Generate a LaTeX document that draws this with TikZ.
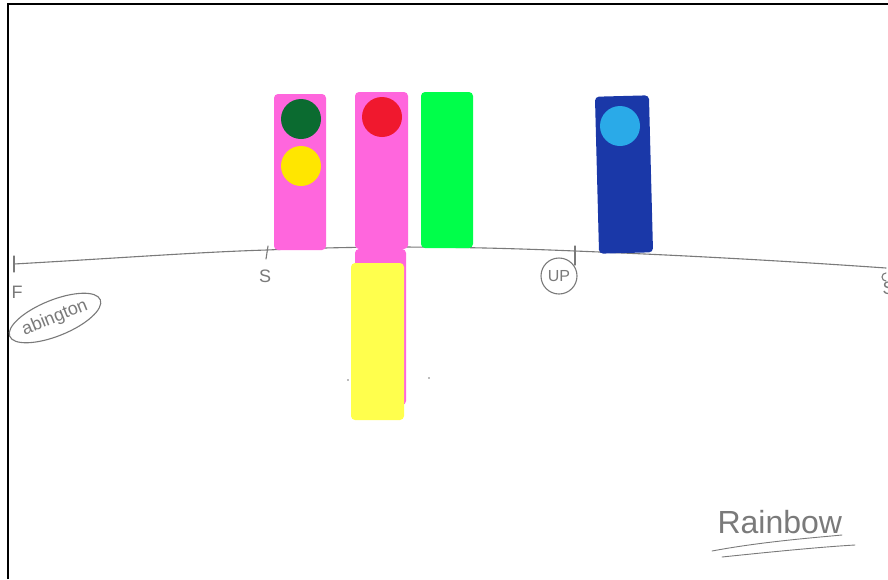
\documentclass[tikz,border=0pt]{standalone}
\usepackage{fontspec}
\setmainfont{Liberation Sans}
\usetikzlibrary{shapes.geometric}
\definecolor{pinkcard}{HTML}{FF66DD}
\definecolor{greencard}{HTML}{00FF4A}
\definecolor{yellowcard}{HTML}{FFFF4D}
\definecolor{bluecard}{HTML}{1A38A8}
\definecolor{dotgreen}{HTML}{0B6B30}
\definecolor{dotyellow}{HTML}{FFE600}
\definecolor{dotred}{HTML}{F0182E}
\definecolor{dotblue}{HTML}{2AAAE8}
\definecolor{pen}{HTML}{7A7A7A}
\tikzset{
  card/.style={rounded corners=4pt, draw=none},
  disc/.style={circle, minimum size=40pt, inner sep=0pt, draw=none},
  penline/.style={draw=pen, line width=1.1pt, line cap=round},
  hand/.style={text=pen, font=\fontsize{18}{20}\selectfont},
  frameline/.style={draw=black, line width=2pt},
}
\begin{document}
\begin{tikzpicture}[x=1pt,y=-1pt]
\useasboundingbox (0,0) rectangle (888,579);
\fill[white] (0,0) rectangle (888,579);
% frame
\draw[frameline] (8,579) -- (8,4) -- (888,4);
% timeline
\coordinate (tl0) at (14,264);
\coordinate (tl1) at (267,250);
\coordinate (tl2) at (575,251);
\coordinate (tl3) at (886,268);
\draw[penline] (tl0) .. controls (120,258) and (200,252) .. (tl1)
  .. controls (380,245) and (480,247) .. (tl2)
  .. controls (700,256) and (800,262) .. (tl3);
% ticks
\draw[penline] ([yshift=-8pt]tl0) -- ([yshift=8pt]tl0);
\draw[penline] ([xshift=-1pt,yshift=-9pt]tl1) -- ([xshift=1pt,yshift=4pt]tl1);
\draw[penline] ([yshift=-14pt]tl2) -- ([yshift=5pt]tl2);
\draw[penline] ([yshift=-5pt]tl3) arc[start angle=90,end angle=270,radius=4pt];
% labels
\node[hand] (lF) at (17,292) {F};
\node[hand] (lS1) at (265,276) {S};
\node[hand, anchor=west] (lS2) at (879,288) {S};
\node[hand, font=\fontsize{18}{20}\selectfont, ellipse, draw=pen, line width=1.1pt, rotate=22, minimum width=86pt, minimum height=36pt, inner sep=0pt] (lab) at (55,318) {abington};
\node[hand, font=\fontsize{16}{18}\selectfont, circle, draw=pen, line width=1.1pt, minimum size=36pt, inner sep=0pt] (lup) at (559,276) {UP};
% cards
\fill[pinkcard, rounded corners=4pt] (355,249) rectangle (406,405);
\fill[pinkcard, rounded corners=4pt] (274,94) rectangle (326,250);
\fill[pinkcard, rounded corners=4pt] (355,92) rectangle (408,249);
\fill[greencard, rounded corners=4pt] (421,92) rectangle (473,248);
\fill[yellowcard, rounded corners=4pt] (351,263) rectangle (404,420);
\fill[bluecard, rounded corners=4pt, rotate around={1.5:(624,175)}] (597,96) rectangle (651,253);
% discs
\node[disc, fill=dotgreen] (dg) at (301,119) {};
\node[disc, fill=dotyellow] (dy) at (301,166) {};
\node[disc, fill=dotred] (dr) at (382,117) {};
\node[disc, fill=dotblue] (db) at (620,126) {};
% small specks
\fill[pen] (348,380) circle[radius=0.8pt];
\fill[pen] (429,378) circle[radius=0.8pt];
% signature
\node[hand, font=\fontsize{32}{34}\selectfont, anchor=base west] (rb) at (714,533) {Rainbow};
\draw[penline, line width=0.9pt] (712,551) .. controls (760,542) and (810,538) .. (842,535);
\draw[penline, line width=0.9pt] (722,557) .. controls (770,552) and (820,547) .. (855,545);
\end{tikzpicture}
\end{document}
